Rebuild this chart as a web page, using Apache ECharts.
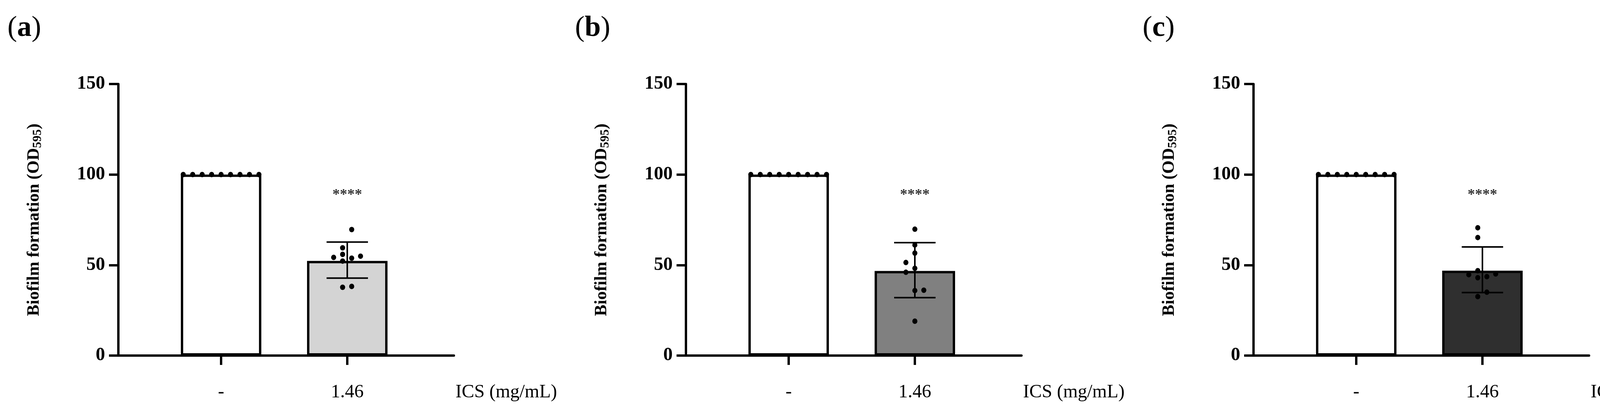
<!DOCTYPE html>
<html>
<head>
<meta charset="utf-8">
<script src="https://cdn.jsdelivr.net/npm/echarts@6/dist/echarts.min.js"></script>
<style>html,body{margin:0;padding:0;background:#fff;overflow:hidden}#chart{width:4336px;height:1057px}</style>
</head>
<body>
<div id="chart"></div>
<script>
// group labels and positions (x units: group 1 at 1, group 2 at 2)
var groups = ['-', '1.46'];
var groupPos = [1, 2];
var panelNames = ['(a)', '(b)', '(c)'];
var barColors = ['#d4d4d4', '#808080', '#2f2f2f'];

// bar means
var means = [
    [100, 52.3],
    [100, 46.7],
    [100, 46.9]
];
// error bars (SD) of treated group
var sdLow = [42.8, 32.0, 34.8];
var sdHigh = [62.7, 62.4, 60.0];

// control replicates (all 100)
var ctrlValues = [100, 100, 100, 100, 100, 100, 100, 100, 100];
var ctrlOffsets = [-0.3, -0.225, -0.15, -0.075, 0, 0.075, 0.15, 0.225, 0.3];

// treated replicates: value and horizontal jitter (x units)
var treatedValues = [
    [69.6, 59.5, 55.9, 54.2, 53.8, 54.9, 52.2, 37.7, 38.2],
    [69.8, 61.1, 56.6, 51.4, 48.2, 46.0, 35.9, 36.1, 19.0],
    [70.6, 65.2, 46.9, 44.7, 43.0, 43.6, 45.1, 35.0, 32.6]
];
var treatedOffsets = [
    [0.035, -0.037, -0.037, -0.108, 0.035, 0.105, -0.037, -0.037, 0.035],
    [0, 0, 0, -0.071, 0, -0.071, 0, 0.071, 0],
    [-0.037, -0.037, -0.037, -0.108, -0.037, 0.035, 0.105, 0.035, -0.037]
];
var sigLabel = '****';
var sigY = 88.6;

var FONT = '"Liberation Serif", "Times New Roman", serif';
var PANEL_STEP = 1453;

var grids = [], xAxes = [], yAxes = [], series = [], graphics = [];

for (var p = 0; p < 3; p++) {
    var left = 303 + p * PANEL_STEP;
    grids.push({ left: left, top: 215, width: 859, height: 695 });
    xAxes.push({
        gridIndex: p, type: 'value', min: 0.186, max: 2.845,
        splitLine: { show: false },
        axisLine: { lineStyle: { color: '#000', width: 6 } },
        axisTick: { show: true, customValues: groupPos, length: 24, lineStyle: { color: '#000', width: 6 } },
        axisLabel: {
            customValues: groupPos, margin: 70, color: '#000', fontFamily: FONT, fontSize: 48,
            formatter: function(v) { return groups[groupPos.indexOf(Math.round(v))] || ''; }
        }
    });
    yAxes.push({
        gridIndex: p, type: 'value', min: 0, max: 150, interval: 50,
        splitLine: { show: false },
        axisLine: { show: true, lineStyle: { color: '#000', width: 6 } },
        axisTick: { show: true, length: 24, lineStyle: { color: '#000', width: 6 } },
        axisLabel: { margin: 34, color: '#000', fontFamily: FONT, fontSize: 48, fontWeight: 'bold' },
        name: '{m|Biofilm formation (OD}{s|595}{m|)}',
        nameLocation: 'middle', nameGap: 190, nameRotate: 90,
        nameTextStyle: {
            rich: {
                m: { fontFamily: FONT, fontSize: 44, fontWeight: 'bold', color: '#000' },
                s: { fontFamily: FONT, fontSize: 32, fontWeight: 'bold', color: '#000', padding: [18, 0, 0, 0] }
            }
        }
    });

    // bars
    series.push({
        type: 'bar', xAxisIndex: p, yAxisIndex: p, barWidth: 206,
        data: groupPos.map(function(x, i) {
            return { value: [x, means[p][i]], itemStyle: { color: i === 0 ? '#fff' : barColors[p] } };
        }),
        itemStyle: { borderColor: '#000', borderWidth: 6 },
        z: 2
    });

    // error bar
    series.push({
        type: 'custom', xAxisIndex: p, yAxisIndex: p, z: 4,
        data: [[groupPos[1], sdLow[p], sdHigh[p]]],
        renderItem: function(params, api) {
            var lo = api.coord([api.value(0), api.value(1)]);
            var hi = api.coord([api.value(0), api.value(2)]);
            var w = 53;
            var st = { stroke: '#000', lineWidth: 4 };
            return {
                type: 'group', children: [
                    { type: 'line', shape: { x1: lo[0], y1: lo[1], x2: hi[0], y2: hi[1] }, style: st },
                    { type: 'line', shape: { x1: lo[0] - w, y1: lo[1], x2: lo[0] + w, y2: lo[1] }, style: st },
                    { type: 'line', shape: { x1: hi[0] - w, y1: hi[1], x2: hi[0] + w, y2: hi[1] }, style: st }
                ]
            };
        }
    });

    // replicate dots
    var dots = [];
    ctrlValues.forEach(function(v, i) { dots.push([groupPos[0] + ctrlOffsets[i], v]); });
    treatedValues[p].forEach(function(v, i) { dots.push([groupPos[1] + treatedOffsets[p][i], v]); });
    series.push({
        type: 'scatter', xAxisIndex: p, yAxisIndex: p, z: 5,
        symbolSize: [13, 14], itemStyle: { color: '#000', opacity: 1 },
        data: dots
    });

    // significance
    series.push({
        type: 'scatter', xAxisIndex: p, yAxisIndex: p, z: 5, symbolSize: 1,
        itemStyle: { color: 'rgba(0,0,0,0)' },
        data: [[groupPos[1], sigY]],
        label: { show: true, position: 'inside', formatter: sigLabel, color: '#000', fontFamily: FONT, fontSize: 38, fontWeight: 'bold' }
    });

    graphics.push({
        type: 'text', left: 19 + p * PANEL_STEP, top: 36,
        style: {
            text: '{p|(}{b|' + panelNames[p].charAt(1) + '}{p|)}',
            rich: {
                p: { fontFamily: FONT, fontSize: 74, fill: '#000' },
                b: { fontFamily: FONT, fontSize: 74, fontWeight: 'bold', fill: '#000' }
            }
        }
    });
    graphics.push({
        type: 'text', left: 1166 + p * PANEL_STEP, top: 980,
        style: { text: 'ICS (mg/mL)', fontFamily: FONT, fontSize: 48, fill: '#000' }
    });
}

var chart = echarts.init(document.getElementById('chart'));
chart.setOption({
    backgroundColor: '#fff',
    animation: false,
    grid: grids,
    xAxis: xAxes,
    yAxis: yAxes,
    series: series,
    graphic: graphics
});
</script>
</body>
</html>
